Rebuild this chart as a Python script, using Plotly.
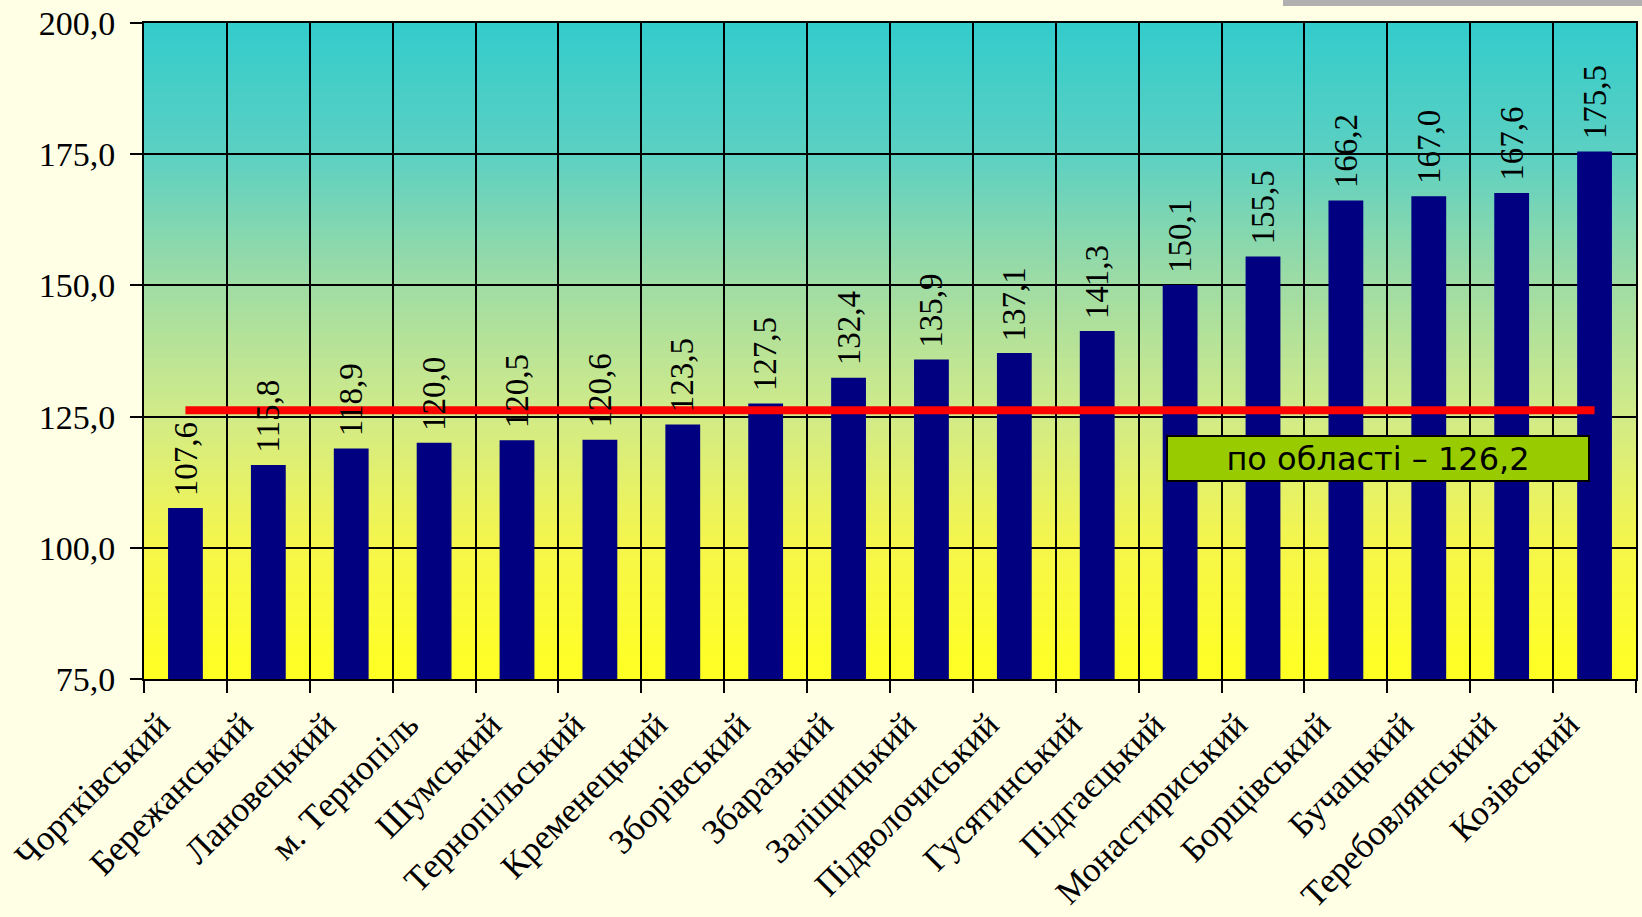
import plotly.graph_objects as go

# ---- data ----
districts = ["Чортківський", "Бережанський", "Лановецький", "м. Тернопіль", "Шумський",
             "Тернопільський", "Кременецький", "Зборівський", "Збаразький", "Заліщицький",
             "Підволочиський", "Гусятинський", "Підгаєцький", "Монастириський", "Борщівський",
             "Бучацький", "Теребовлянський", "Козівський"]
values = [107.6, 115.8, 118.9, 120.0, 120.5, 120.6, 123.5, 127.5, 132.4, 135.9,
          137.1, 141.3, 150.1, 155.5, 166.2, 167.0, 167.6, 175.5]
region_avg = 126.2
region_label = "по області – 126,2"
y_ticks = [75, 100, 125, 150, 175, 200]
y_tick_labels = ["75,0", "100,0", "125,0", "150,0", "175,0", "200,0"]
y_range = [75, 200]

W, H = 1642, 917
ML, MR, MT, MB = 144, 6, 23, 238
pw, ph = W - ML - MR, H - MT - MB
BG = "#FFFFE6"

def fmt(v):
    return f"{v:.1f}".replace(".", ",")

fig = go.Figure()

# background gradient (overlapping strips, below grid)
stops = [(0.0, (51, 204, 204)), (0.2, (92, 208, 194)), (0.4, (160, 220, 164)),
         (0.6, (210, 235, 136)), (0.8, (246, 246, 74)), (1.0, (255, 255, 34))]

def col(t):
    for (a, ca), (b, cb) in zip(stops[:-1], stops[1:]):
        if a <= t <= b:
            f = (t - a) / (b - a)
            return "rgb(%d,%d,%d)" % tuple(round(ca[i] + (cb[i] - ca[i]) * f) for i in range(3))
    return "rgb(255,255,34)"

n = 250
span = y_range[1] - y_range[0]
shapes = []
for i in range(n):
    top = y_range[1] - span * i / n
    shapes.append(dict(type="rect", xref="x domain", yref="y", x0=0, x1=1,
                       y0=y_range[0], y1=top, fillcolor=col((i + 0.5) / n),
                       line=dict(width=0), layer="below"))
# grey bar at top right
shapes.append(dict(type="rect", xref="paper", yref="paper",
                   x0=(1283 - ML) / pw, x1=(W - ML) / pw,
                   y0=(H - MB - 6) / ph, y1=(H - MB) / ph + 0.01,
                   fillcolor="#B0B0B0", line=dict(width=0), layer="above"))

SERIF = "Liberation Serif"
fig.add_trace(go.Bar(
    x=districts, y=values, marker=dict(color="#000080", line=dict(width=0)),
    hoverinfo="x+y",
))
fig.add_trace(go.Scatter(
    x=districts, y=[region_avg] * len(districts), mode="lines",
    line=dict(color="#FF0000", width=8), hoverinfo="skip",
))

# value labels (rotated) above bars
for d, v in zip(districts, values):
    fig.add_annotation(
        x=d, y=v, xref="x", yref="y", text=fmt(v), showarrow=False,
        textangle=-90, xanchor="center", yanchor="bottom", yshift=10,
        font=dict(family=SERIF, size=33, color="black"),
    )

fig.add_annotation(
    xref="paper", yref="paper", xanchor="center", yanchor="middle",
    x=(1378 - ML) / pw, y=(H - MB - 458) / ph,
    text=region_label, showarrow=False,
    font=dict(family="DejaVu Sans", size=32, color="black"),
    bgcolor="#99CC00", bordercolor="black", borderwidth=2,
    width=420, height=43, borderpad=0,
)

fig.update_layout(
    width=W, height=H,
    margin=dict(l=ML, r=MR, t=MT, b=MB),
    paper_bgcolor=BG, plot_bgcolor="rgba(0,0,0,0)",
    font=dict(family=SERIF, color="black"),
    showlegend=False, bargap=0.58,
    shapes=shapes,
)
fig.update_xaxes(
    type="category", tickson="boundaries", showgrid=True, gridcolor="black", gridwidth=2,
    showline=True, linecolor="black", linewidth=2, mirror=True,
    ticks="outside", ticklen=12, tickwidth=2, tickcolor="black",
    tickangle=-45, ticklabelshift=-26, ticklabelstandoff=9, automargin=False,
    tickfont=dict(family=SERIF, size=35, color="black"),
)
fig.update_yaxes(
    range=y_range, tickvals=y_ticks, ticktext=y_tick_labels,
    showgrid=True, gridcolor="black", gridwidth=2, zeroline=False,
    showline=True, linecolor="black", linewidth=2, mirror=True, automargin=False,
    ticks="outside", ticklen=12, tickwidth=2, tickcolor="black", ticklabelstandoff=8,
    tickfont=dict(family=SERIF, size=34, color="black"),
)

fig.write_html("out.html", config={"displayModeBar": False},
               post_script="document.body.style.margin='0';document.body.style.background='%s';" % BG)
